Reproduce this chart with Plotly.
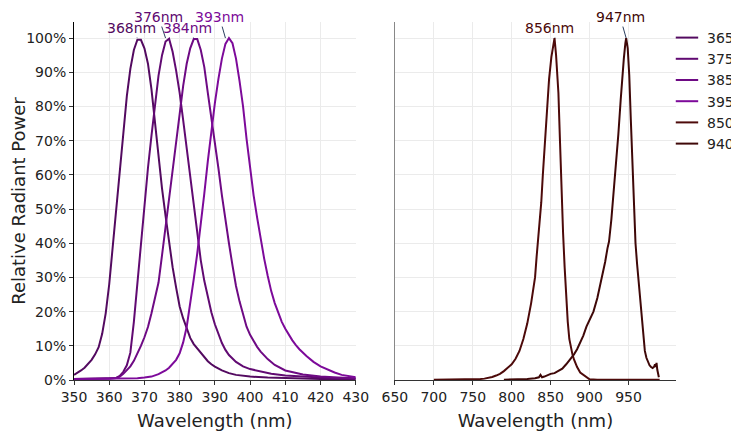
import plotly.graph_objects as go

# ---------------- data (relative radiant power, %) ----------------
wl_365 = [350, 351, 352, 353, 354, 355, 356, 357, 358, 359, 360, 361, 362, 363, 364, 365, 366, 367, 368, 369,
          370, 371, 372, 373, 374, 375, 376, 377, 378, 379, 380, 381, 382, 383, 384, 385, 386, 387, 388, 389,
          390, 392, 394, 396, 398, 400, 405, 410, 415, 420, 425, 430]
pw_365 = [1.5, 2.1, 2.8, 3.6, 4.6, 5.9, 7.5, 9.6, 13.5, 19.5, 28, 39, 51, 62, 73, 83, 91, 96.5, 99.5, 99.5,
          97, 92.5, 85, 75, 65, 56, 48, 40, 33, 27, 21.5, 18, 14.8, 12.3, 10.5, 9.2, 7.8, 6.6, 5.5, 4.6,
          3.9, 2.8, 2.0, 1.5, 1.2, 1.0, 0.7, 0.5, 0.4, 0.3, 0.3, 0.2]

wl_375 = [350, 355, 360, 362, 363, 364, 365, 366, 367, 368, 369, 370, 371, 372, 373, 374, 375, 376, 377, 378,
          379, 380, 381, 382, 383, 384, 385, 386, 387, 388, 389, 390, 391, 392, 393, 394, 396, 398, 400, 403,
          406, 410, 415, 420, 425, 430]
pw_375 = [0.3, 0.4, 0.5, 0.6, 1.2, 2.4, 4.3, 8, 17, 28, 40, 52, 62, 71.5, 81, 89, 95, 99, 99.8, 96,
          90.5, 84, 76, 67.5, 59, 50.5, 42.5, 35, 29, 24, 19.8, 16.3, 13.3, 10.8, 8.8, 7.3, 5.3, 4.0, 3.2, 2.4,
          1.8, 1.3, 0.9, 0.7, 0.5, 0.4]

wl_385 = [350, 355, 360, 362, 363, 364, 365, 366, 367, 368, 369, 370, 371, 372, 373, 374, 375, 376, 377, 378,
          379, 380, 381, 382, 383, 384, 385, 386, 387, 388, 389, 390, 391, 392, 393, 394, 395, 396, 397, 398,
          399, 400, 401, 402, 403, 404, 405, 407, 410, 415, 420, 425, 430]
pw_385 = [0.3, 0.3, 0.4, 0.6, 1.0, 1.8, 2.8, 4.0, 5.6, 7.6, 10, 12.5, 15.5, 19.5, 24, 28.5, 36.5, 45, 53, 61,
          69.5, 78, 86, 92.5, 97, 99.7, 99.7, 96.5, 91.5, 84, 77, 69.5, 62, 54, 46.5, 40, 33.5, 27.5, 23, 19,
          15.6, 13.2, 11.3, 9.7, 8.3, 7.1, 6.1, 4.4, 2.8, 1.6, 1.0, 0.7, 0.5]

wl_395 = [350, 360, 365, 368, 370, 372, 374, 376, 377, 378, 379, 380, 381, 382, 383, 384, 385, 386, 387, 388,
          389, 390, 391, 392, 393, 394, 395, 396, 397, 398, 399, 400, 401, 402, 403, 404, 405, 406, 407, 408,
          409, 410, 411, 412, 413, 414, 416, 418, 420, 422, 424, 426, 428, 430]
pw_395 = [0.3, 0.3, 0.4, 0.5, 0.7, 1.0, 1.7, 2.8, 3.6, 4.6, 5.9, 7.8, 11, 15.5, 22, 29.5, 37, 45, 54.5, 64,
          73, 81, 88, 94, 98.3, 100, 98.5, 94, 87.5, 80, 70.5, 61.5, 54, 47.5, 41, 35.5, 30.5, 26, 22.5, 19.5,
          17, 15, 13.2, 11.6, 10.2, 9, 7, 5.3, 4.0, 3.0, 2.2, 1.5, 1.1, 0.8]

wl_850 = [700, 710, 720, 730, 740, 750, 760, 765, 770, 775, 780, 785, 790, 795, 800, 805, 810, 815, 820, 825,
          830, 832, 835, 838, 840, 843, 845, 848, 851, 853, 855, 857, 860, 862, 864, 866, 868, 870, 872, 874,
          876, 878, 880, 884, 888, 892, 896, 900, 910, 920, 930, 940, 950, 960, 970, 980, 990]
pw_850 = [0.1, 0.1, 0.1, 0.1, 0.2, 0.2, 0.3, 0.4, 0.6, 0.9, 1.3, 1.8, 2.6, 3.5, 4.6, 6.2, 8.5, 12, 16.5, 22.5,
          30, 36, 43, 52, 60, 71, 78, 88, 94.5, 97.5, 100, 95, 84, 70, 55, 43, 33, 23, 17, 12,
          9.5, 7.5, 6, 3.8, 2.2, 1.5, 0.8, 0.2, 0.1, 0.1, 0.1, 0.1, 0.1, 0.1, 0.1, 0.1, 0.1]

wl_940 = [790, 800, 810, 820, 830, 835, 837, 839, 842, 845, 850, 855, 860, 865, 870, 875, 878, 880, 884, 888,
          892, 896, 900, 905, 910, 915, 920, 923, 925, 928, 931, 934, 937, 940, 942, 944, 946, 947, 949, 951,
          953, 955, 957, 959, 961, 963, 965, 967, 969, 971, 973, 975, 977, 979, 981, 983, 984, 985, 986, 987, 989]
pw_940 = [0.1, 0.1, 0.2, 0.3, 0.5, 0.8, 1.5, 0.8, 1.0, 1.3, 1.8, 2.0, 2.7, 3.3, 4.6, 6, 6.8, 7.5, 9, 11,
          13, 15.6, 17.5, 20, 24, 29, 34.5, 38.5, 40.5, 47, 55, 63, 72, 82, 89, 94, 98.5, 100, 97, 89,
          76, 62, 50, 40, 34, 28.5, 24, 17.5, 12.5, 8.5, 6.5, 5.2, 4.3, 3.8, 3.5, 3.9, 4.6, 3.8, 5, 3, 0.8]

names = ["365", "375", "385", "395", "850", "940"]
peak_labels = [368, 376, 384, 393, 856, 947]
x_ticks_uv = [350, 360, 370, 380, 390, 400, 410, 420, 430]
x_ticks_ir = [650, 700, 750, 800, 850, 900, 950]

# ---------------- styling ----------------
colors = ["#530a60", "#610a72", "#6e0a84", "#7d0a9a", "#4d0a0a", "#3f0808"]
axis_of = ["x", "x", "x", "x", "x2", "x2"]
label_offsets = [(-6, -10), (-7, -21), (-6, -10), (-6, -21), (-6, -10), (-6, -21)]

data = [(wl_365, pw_365), (wl_375, pw_375), (wl_385, pw_385),
        (wl_395, pw_395), (wl_850, pw_850), (wl_940, pw_940)]

fig = go.Figure()
for name, (wl, pw), col, xa in zip(names, data, colors, axis_of):
    fig.add_trace(go.Scatter(
        x=wl, y=[v / 100 for v in pw], mode="lines", name=name,
        line=dict(color=col, width=2), showlegend=False,
        xaxis=xa, yaxis="y" if xa == "x" else "y2",
    ))
# legend entries with short line glyphs
for name, col in zip(names, colors):
    fig.add_trace(go.Scatter(
        x=[None], y=[None], mode="markers", name=name,
        marker=dict(symbol="line-ew", size=16, color=col, line=dict(width=2, color=col)),
        xaxis="x", yaxis="y", showlegend=True,
    ))

annotations = []
for lab, col, xa, (ax, ay) in zip(peak_labels, colors, axis_of, label_offsets):
    annotations.append(dict(
        x=lab, y=1.0, xref=xa, yref="y" if xa == "x" else "y2",
        text=f"{lab}nm", showarrow=True, arrowhead=0, arrowwidth=1,
        arrowcolor="#2a3f5f", ax=ax, ay=ay, standoff=0,
        font=dict(color=col, size=14, family="DejaVu Sans"),
    ))

grid = "#ebebeb"
common_x = dict(showgrid=True, gridcolor=grid, gridwidth=1, showline=True,
                linecolor="#333", linewidth=1, ticks="outside", ticklen=4,
                tickcolor="#333", zeroline=False, automargin=False,
                title=dict(text="Wavelength (nm)", font=dict(size=18), standoff=10),
                tickfont=dict(size=14))

# the page body adds an 8px offset, so the figure is 8px smaller than the window
fig.update_layout(
    width=731, height=423,
    margin=dict(l=66, r=63, t=14, b=51, autoexpand=False),
    font=dict(family="DejaVu Sans", size=14, color="#222"),
    plot_bgcolor="white", paper_bgcolor="white",
    xaxis=dict(domain=[0, 0.468], range=[350, 430], tickvals=x_ticks_uv, anchor="y", **common_x),
    xaxis2=dict(domain=[0.533, 1], range=[650, 1011], tickvals=x_ticks_ir, anchor="y2", **common_x),
    yaxis=dict(range=[0, 1.047], tickformat=".0%", tick0=0, dtick=0.1, showgrid=True,
               gridcolor=grid, showline=True, linecolor="black", linewidth=1,
               ticks="outside", ticklen=4, tickcolor="#333", zeroline=False, anchor="x",
               automargin=False,
               title=dict(text="Relative Radiant Power", font=dict(size=18), standoff=8),
               tickfont=dict(size=14)),
    yaxis2=dict(range=[0, 1.047], matches="y", anchor="x2", showticklabels=False,
                tick0=0, dtick=0.1, showgrid=True, gridcolor=grid, showline=True,
                linecolor="#888", linewidth=1, ticks="", zeroline=False, automargin=False),
    legend=dict(x=0.985, xanchor="left", y=1, yanchor="top", font=dict(size=14),
                tracegroupgap=0, bgcolor="rgba(0,0,0,0)", borderwidth=0),
    annotations=annotations,
    showlegend=True,
)

fig.write_html("out.html")
